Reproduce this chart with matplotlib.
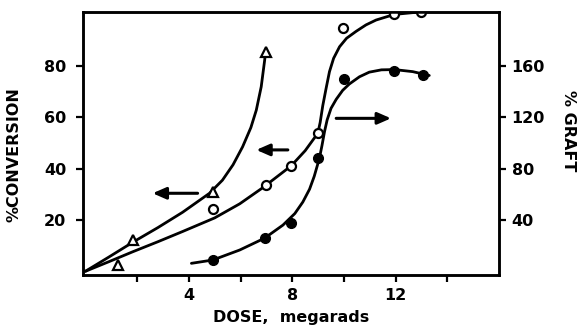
import matplotlib
matplotlib.use("Agg")
import matplotlib.pyplot as plt

plt.rcParams['font.family'] = ['DejaVu Sans']
plt.rcParams['font.weight'] = 'bold'

dose_tri = [1.25, 1.83, 4.93, 6.97]
conv_tri = [2.5, 12.2, 31.0, 85.5]

dose_open = [4.93, 7.0, 7.96, 8.99, 9.95, 11.95, 12.98]
conv_open = [24.2, 33.6, 41.1, 53.8, 94.7, 100.1, 101.1]

dose_fill = [4.93, 6.93, 7.96, 8.99, 10.02, 11.95, 13.04]
graft_fill = [8.8, 25.8, 37.8, 88.0, 149.8, 156.0, 153.0]

# hand-drawn fit curves
curve_tri_x = [0.0, 0.9, 1.83, 2.8, 3.76, 4.8, 5.3, 5.71, 6.08, 6.4, 6.61,
               6.8, 6.93, 6.97]
curve_tri_y = [0.0, 5.5, 11.3, 17.0, 23.0, 30.4, 35.5, 41.5, 48.5, 56.0, 62.8,
               71.9, 82.0, 85.5]

curve_open_x = [0.0, 0.9, 1.83, 2.8, 3.76, 5.0, 5.97, 6.85, 7.96, 8.5, 8.99,
                9.08, 9.18, 9.31, 9.44, 9.6, 9.83, 10.1, 10.47, 10.85, 11.24,
                11.95, 12.98]
curve_open_y = [0.0, 3.7, 7.6, 11.5, 15.5, 20.8, 26.3, 32.5, 41.1, 47.0, 53.8,
                58.0, 64.5, 71.3, 77.8, 83.0, 87.5, 90.8, 93.5, 96.0, 97.9,
                100.1, 101.1]

curve_fill_x = [4.1, 4.93, 5.97, 6.93, 7.64, 8.1, 8.41, 8.67, 8.85, 9.05,
                9.15, 9.25, 9.35, 9.5, 9.7, 9.95, 10.21, 10.6, 10.98, 11.45,
                11.95, 12.66, 13.3]
graft_curve = [6.2, 8.8, 16.6, 25.8, 36.0, 45.0, 54.0, 64.0, 74.0, 88.0,
               98.0, 109.0, 118.0, 127.0, 134.0, 141.0, 146.0, 151.6, 155.2,
               157.0, 157.2, 155.6, 152.6]

fig = plt.figure(figsize=(5.79, 3.27), dpi=100)
ax = fig.add_axes([0.143, 0.159, 0.719, 0.804])
ax2 = ax.twinx()

lw = 2.0
ax.plot(curve_tri_x, curve_tri_y, color='k', lw=lw, solid_capstyle='round',
        solid_joinstyle='round')
ax.plot(curve_open_x, curve_open_y, color='k', lw=lw, solid_capstyle='round',
        solid_joinstyle='round')
ax2.plot(curve_fill_x, graft_curve, color='k', lw=lw, solid_capstyle='round',
         solid_joinstyle='round')

ax.plot(dose_tri, conv_tri, ls='none', marker='^', ms=6.5, mfc='white',
        mec='k', mew=1.6, zorder=5)
ax.plot(dose_open, conv_open, ls='none', marker='o', ms=6.5, mfc='white',
        mec='k', mew=1.6, zorder=5)
ax2.plot(dose_fill, graft_fill, ls='none', marker='o', ms=7, mfc='k',
         mec='k', zorder=5)

arrow = dict(arrowstyle='-|>,head_length=0.8,head_width=0.35', color='k',
             lw=2.2, shrinkA=0, shrinkB=0)
ax.annotate('', xy=(2.6, 30.4), xytext=(4.34, 30.4), arrowprops=arrow)
ax.annotate('', xy=(6.61, 47.3), xytext=(7.83, 47.3), arrowprops=arrow)
ax2.annotate('', xy=(11.82, 119.2), xytext=(9.7, 119.2), arrowprops=arrow)

ax.set_xlim(-0.1, 16)
ax.set_ylim(-1.45, 101)
ax2.set_ylim(-2.9, 202)

ax.set_xticks([2, 4, 6, 8, 10, 12, 14])
ax.set_xticklabels(['', '4', '', '8', '', '12', ''])
ax.set_yticks([20, 40, 60, 80])
ax2.set_yticks([40, 80, 120, 160])

for a in (ax, ax2):
    for s in a.spines.values():
        s.set_linewidth(1.8)
    a.tick_params(direction='out', length=5, width=1.6, labelsize=11.5)
ax.tick_params(axis='y', pad=7)
ax2.tick_params(axis='y', pad=4)
ax.tick_params(axis='x', pad=4)

ax.set_xlabel('DOSE,  megarads', fontsize=11.5, fontweight='bold')
ax.xaxis.set_label_coords(0.5, -0.135)
ax.set_ylabel('%CONVERSION', fontsize=11.5, fontweight='bold')
ax.yaxis.set_label_coords(-0.148, 0.46)
ax2.set_ylabel('% GRAFT', fontsize=11.5, fontweight='bold', rotation=-90)
ax2.yaxis.set_label_coords(1.185, 0.55)

fig.savefig('out.png', dpi=100)
